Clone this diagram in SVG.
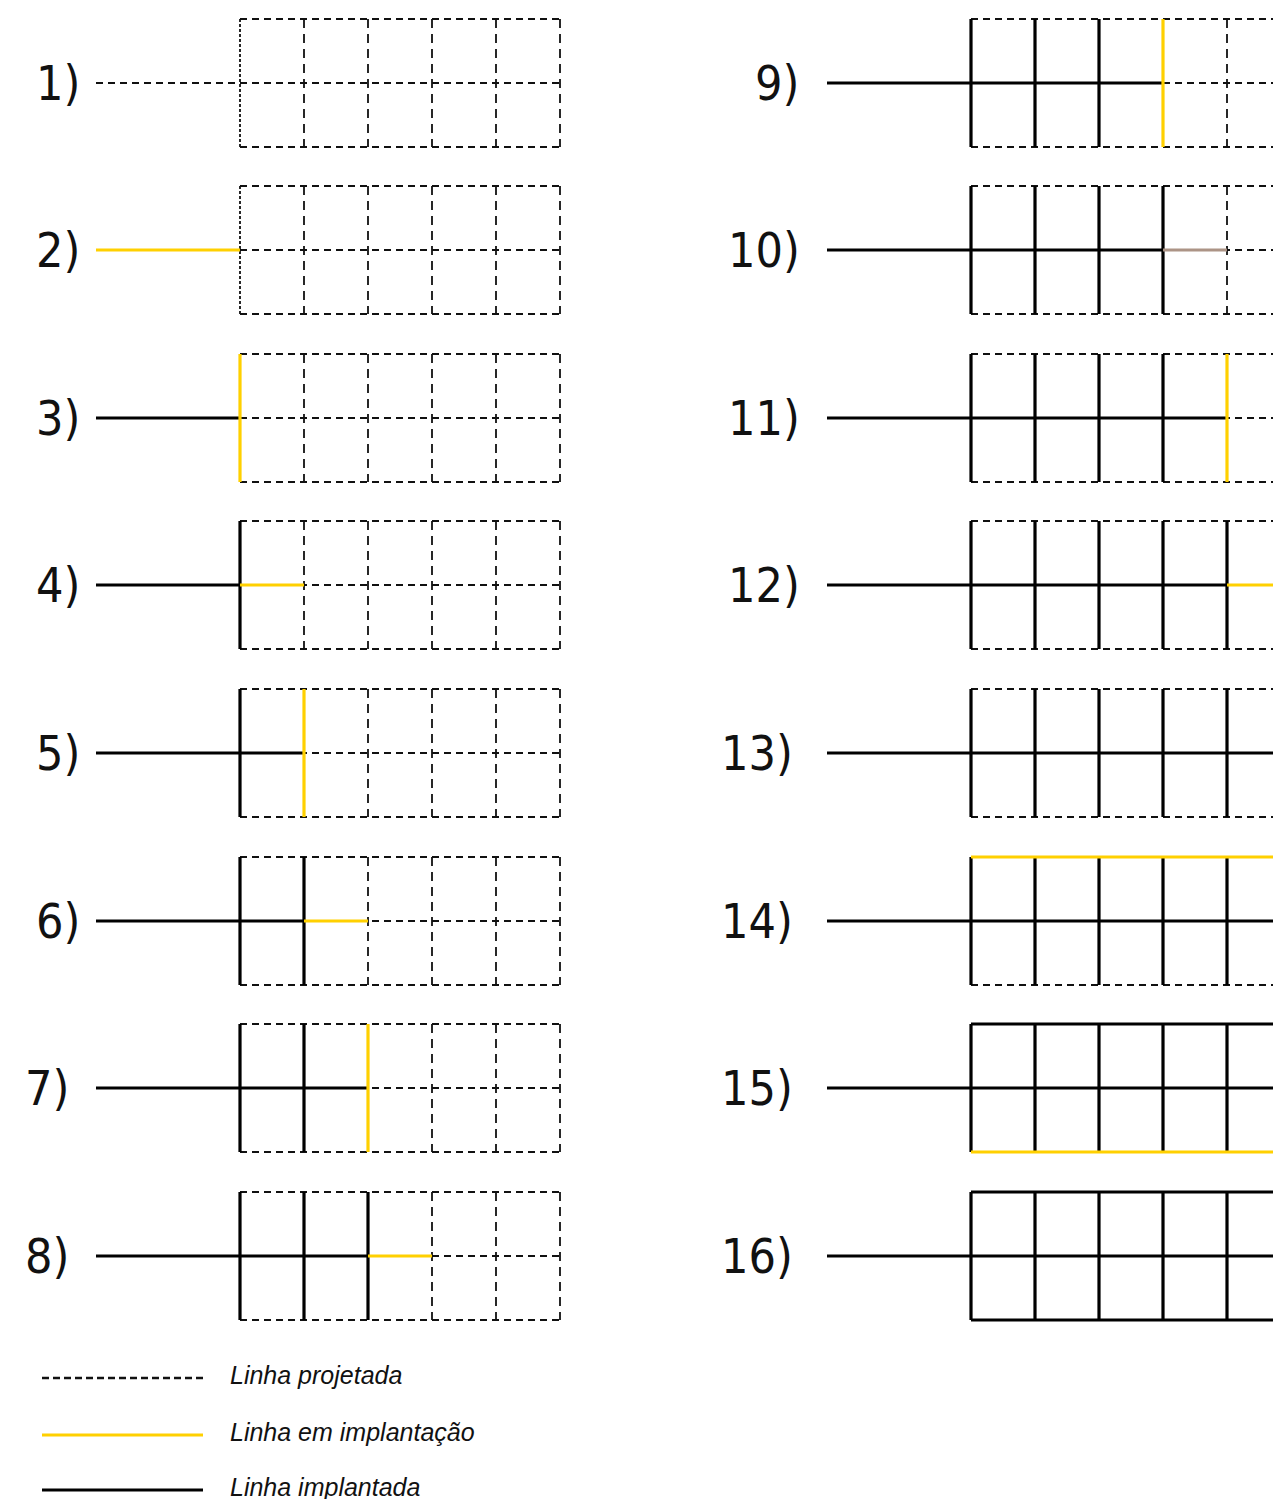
<svg xmlns="http://www.w3.org/2000/svg" xmlns:xlink="http://www.w3.org/1999/xlink" width="1273" height="1499" viewBox="0 0 1273 1499">
<style>
.d{stroke:#111;stroke-width:1.8;stroke-dasharray:7 5;fill:none}
.vd{stroke:#111;stroke-width:1.8;stroke-dasharray:9 6;fill:none}
.dot{stroke:#111;stroke-width:1.8;stroke-dasharray:3 2;fill:none}
.k{stroke:#000;stroke-width:3.2;fill:none}
.y{stroke:#FFD000;stroke-width:3.2;fill:none}
.b{stroke:#AC9486;stroke-width:3.2;fill:none}
.lbl{font-family:"DejaVu Sans Condensed","DejaVu Sans",sans-serif;font-stretch:condensed;font-size:48px;fill:#111}
.leg{font-family:"Liberation Sans",Arial,sans-serif;font-style:italic;font-size:25px;fill:#111}
</style>
<defs>
<g id="grid">
<line class="d" x1="240" y1="0" x2="560" y2="0"/>
<line class="d" x1="240" y1="64" x2="560" y2="64"/>
<line class="d" x1="240" y1="128" x2="560" y2="128"/>
<line class="vd" x1="304" y1="0" x2="304" y2="128"/>
<line class="vd" x1="368" y1="0" x2="368" y2="128"/>
<line class="vd" x1="432" y1="0" x2="432" y2="128"/>
<line class="vd" x1="496" y1="0" x2="496" y2="128"/>
<line class="vd" x1="560" y1="0" x2="560" y2="128"/>
</g>
</defs>
<rect width="1273" height="1499" fill="#fff"/>

<g id="p1" transform="translate(0,19)">
<use xlink:href="#grid"/>
<line class="dot" x1="240" y1="0" x2="240" y2="128"/>
<line class="d" x1="96" y1="64" x2="240" y2="64"/>
<text class="lbl" x="36" y="81">1)</text>
</g>
<g id="p2" transform="translate(0,186)">
<use xlink:href="#grid"/>
<line class="dot" x1="240" y1="0" x2="240" y2="128"/>
<line class="y" x1="96" y1="64" x2="240" y2="64"/>
<text class="lbl" x="36" y="81">2)</text>
</g>
<g id="p3" transform="translate(0,354)">
<use xlink:href="#grid"/>
<line class="k" x1="96" y1="64" x2="240" y2="64"/>
<line class="y" x1="240" y1="0" x2="240" y2="128"/>
<text class="lbl" x="36" y="81">3)</text>
</g>
<g id="p4" transform="translate(0,521)">
<use xlink:href="#grid"/>
<line class="k" x1="96" y1="64" x2="240" y2="64"/>
<line class="k" x1="240" y1="0" x2="240" y2="128"/>
<line class="y" x1="240" y1="64" x2="304" y2="64"/>
<text class="lbl" x="36" y="81">4)</text>
</g>
<g id="p5" transform="translate(0,689)">
<use xlink:href="#grid"/>
<line class="k" x1="96" y1="64" x2="304" y2="64"/>
<line class="k" x1="240" y1="0" x2="240" y2="128"/>
<line class="y" x1="304" y1="0" x2="304" y2="128"/>
<text class="lbl" x="36" y="81">5)</text>
</g>
<g id="p6" transform="translate(0,857)">
<use xlink:href="#grid"/>
<line class="k" x1="96" y1="64" x2="304" y2="64"/>
<line class="k" x1="240" y1="0" x2="240" y2="128"/>
<line class="k" x1="304" y1="0" x2="304" y2="128"/>
<line class="y" x1="304" y1="64" x2="368" y2="64"/>
<text class="lbl" x="36" y="81">6)</text>
</g>
<g id="p7" transform="translate(0,1024)">
<use xlink:href="#grid"/>
<line class="k" x1="96" y1="64" x2="368" y2="64"/>
<line class="k" x1="240" y1="0" x2="240" y2="128"/>
<line class="k" x1="304" y1="0" x2="304" y2="128"/>
<line class="y" x1="368" y1="0" x2="368" y2="128"/>
<text class="lbl" x="25" y="81">7)</text>
</g>
<g id="p8" transform="translate(0,1192)">
<use xlink:href="#grid"/>
<line class="k" x1="96" y1="64" x2="368" y2="64"/>
<line class="k" x1="240" y1="0" x2="240" y2="128"/>
<line class="k" x1="304" y1="0" x2="304" y2="128"/>
<line class="k" x1="368" y1="0" x2="368" y2="128"/>
<line class="y" x1="368" y1="64" x2="432" y2="64"/>
<text class="lbl" x="25" y="81">8)</text>
</g>

<g id="p9" transform="translate(731,19)">
<use xlink:href="#grid"/>
<line class="k" x1="96" y1="64" x2="432" y2="64"/>
<line class="k" x1="240" y1="0" x2="240" y2="128"/>
<line class="k" x1="304" y1="0" x2="304" y2="128"/>
<line class="k" x1="368" y1="0" x2="368" y2="128"/>
<line class="y" x1="432" y1="0" x2="432" y2="128"/>
<text class="lbl" x="24" y="81">9)</text>
</g>
<g id="p10" transform="translate(731,186)">
<use xlink:href="#grid"/>
<line class="k" x1="96" y1="64" x2="432" y2="64"/>
<line class="k" x1="240" y1="0" x2="240" y2="128"/>
<line class="k" x1="304" y1="0" x2="304" y2="128"/>
<line class="k" x1="368" y1="0" x2="368" y2="128"/>
<line class="k" x1="432" y1="0" x2="432" y2="128"/>
<line class="b" x1="432" y1="64" x2="496" y2="64"/>
<text class="lbl" x="-3" y="81">10)</text>
</g>
<g id="p11" transform="translate(731,354)">
<use xlink:href="#grid"/>
<line class="k" x1="96" y1="64" x2="496" y2="64"/>
<line class="k" x1="240" y1="0" x2="240" y2="128"/>
<line class="k" x1="304" y1="0" x2="304" y2="128"/>
<line class="k" x1="368" y1="0" x2="368" y2="128"/>
<line class="k" x1="432" y1="0" x2="432" y2="128"/>
<line class="y" x1="496" y1="0" x2="496" y2="128"/>
<text class="lbl" x="-3" y="81">11)</text>
</g>
<g id="p12" transform="translate(731,521)">
<use xlink:href="#grid"/>
<line class="k" x1="96" y1="64" x2="496" y2="64"/>
<line class="k" x1="240" y1="0" x2="240" y2="128"/>
<line class="k" x1="304" y1="0" x2="304" y2="128"/>
<line class="k" x1="368" y1="0" x2="368" y2="128"/>
<line class="k" x1="432" y1="0" x2="432" y2="128"/>
<line class="k" x1="496" y1="0" x2="496" y2="128"/>
<line class="y" x1="496" y1="64" x2="560" y2="64"/>
<text class="lbl" x="-3" y="81">12)</text>
</g>
<g id="p13" transform="translate(731,689)">
<use xlink:href="#grid"/>
<line class="k" x1="96" y1="64" x2="560" y2="64"/>
<line class="k" x1="240" y1="0" x2="240" y2="128"/>
<line class="k" x1="304" y1="0" x2="304" y2="128"/>
<line class="k" x1="368" y1="0" x2="368" y2="128"/>
<line class="k" x1="432" y1="0" x2="432" y2="128"/>
<line class="k" x1="496" y1="0" x2="496" y2="128"/>
<line class="k" x1="560" y1="0" x2="560" y2="128"/>
<text class="lbl" x="-10" y="81">13)</text>
</g>
<g id="p14" transform="translate(731,857)">
<use xlink:href="#grid"/>
<line class="k" x1="96" y1="64" x2="560" y2="64"/>
<line class="k" x1="240" y1="0" x2="240" y2="128"/>
<line class="k" x1="304" y1="0" x2="304" y2="128"/>
<line class="k" x1="368" y1="0" x2="368" y2="128"/>
<line class="k" x1="432" y1="0" x2="432" y2="128"/>
<line class="k" x1="496" y1="0" x2="496" y2="128"/>
<line class="k" x1="560" y1="0" x2="560" y2="128"/>
<line class="y" x1="240" y1="0" x2="560" y2="0"/>
<text class="lbl" x="-10" y="81">14)</text>
</g>
<g id="p15" transform="translate(731,1024)">
<line class="k" x1="96" y1="64" x2="560" y2="64"/>
<line class="k" x1="240" y1="0" x2="560" y2="0"/>
<line class="k" x1="240" y1="0" x2="240" y2="128"/>
<line class="k" x1="304" y1="0" x2="304" y2="128"/>
<line class="k" x1="368" y1="0" x2="368" y2="128"/>
<line class="k" x1="432" y1="0" x2="432" y2="128"/>
<line class="k" x1="496" y1="0" x2="496" y2="128"/>
<line class="k" x1="560" y1="0" x2="560" y2="128"/>
<line class="y" x1="240" y1="128" x2="560" y2="128"/>
<text class="lbl" x="-10" y="81">15)</text>
</g>
<g id="p16" transform="translate(731,1192)">
<line class="k" x1="96" y1="64" x2="560" y2="64"/>
<line class="k" x1="240" y1="0" x2="560" y2="0"/>
<line class="k" x1="240" y1="128" x2="560" y2="128"/>
<line class="k" x1="240" y1="0" x2="240" y2="128"/>
<line class="k" x1="304" y1="0" x2="304" y2="128"/>
<line class="k" x1="368" y1="0" x2="368" y2="128"/>
<line class="k" x1="432" y1="0" x2="432" y2="128"/>
<line class="k" x1="496" y1="0" x2="496" y2="128"/>
<line class="k" x1="560" y1="0" x2="560" y2="128"/>
<text class="lbl" x="-10" y="81">16)</text>
</g>

<g id="legend">
<line class="d" x1="42" y1="1378" x2="205" y2="1378" style="stroke-dasharray:7 4;stroke-width:2.4"/>
<text class="leg" x="230" y="1384">Linha projetada</text>
<line class="y" x1="42" y1="1435" x2="203" y2="1435"/>
<text class="leg" x="230" y="1441">Linha em implantação</text>
<line class="k" x1="42" y1="1490" x2="203" y2="1490"/>
<text class="leg" x="230" y="1496">Linha implantada</text>
</g>
</svg>
